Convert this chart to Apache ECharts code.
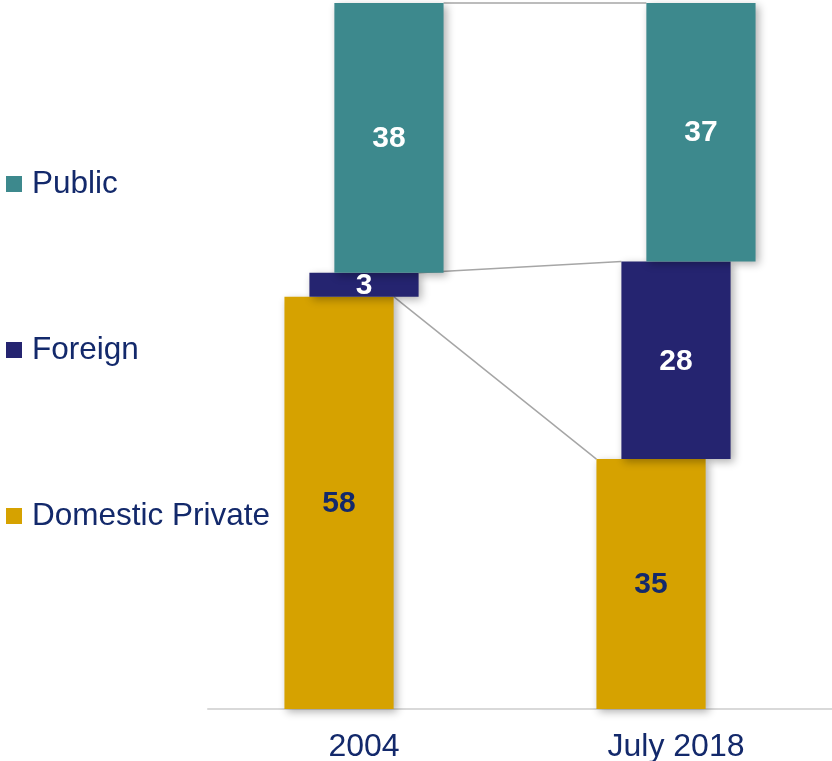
<!DOCTYPE html>
<html>
<head>
<meta charset="utf-8">
<script src="https://cdn.jsdelivr.net/npm/echarts@6/dist/echarts.min.js"></script>
<style>
  html, body { margin: 0; padding: 0; background: #fff; }
  #chart { width: 832px; height: 761px; }
</style>
</head>
<body>
<div id="chart"></div>
<script>
// data (shares in %)
const categories = ['2004', 'July 2018'];
const domesticPrivate = [58.4, 35.4];
const foreign = [3.4, 28.0];
const publicShare = [38.2, 36.6];

const seriesNames = ['Domestic Private', 'Foreign', 'Public'];
const legendOrder = ['Public', 'Foreign', 'Domestic Private'];
const seriesValues = [domesticPrivate, foreign, publicShare];
const seriesColors = ['#d6a200', '#252470', '#3d898d'];
const labelColors = ['#13296b', '#ffffff', '#ffffff'];

const TEXT_COLOR = '#13296b';
const FONT = 'Arial, "Liberation Sans", sans-serif';
const BAR_RATIO = 0.35;   // bar width / category band
const SHIFT_RATIO = 0.08; // horizontal step between stacked pieces

// rows: [category index, base, top, value]
const stackRows = seriesValues.map((vals, k) => vals.map((v, i) => {
  let base = 0;
  for (let j = 0; j < k; j++) base += seriesValues[j][i];
  return [i, base, base + v, v];
}));

// rows for the series lines: [cat0, top0, cat1, top1, series index]
const connectorRows = stackRows.map((rows, k) => [0, rows[0][2], 1, rows[1][2], k]);

function barRenderer(k) {
  return function (params, api) {
    const bandW = api.size([1, 0])[0];
    const w = bandW * BAR_RATIO;
    const off = (k - 1) * bandW * SHIFT_RATIO;
    const top = api.coord([api.value(0), api.value(2)]);
    const bottom = api.coord([api.value(0), api.value(1)]);
    return {
      type: 'group',
      children: [
        {
          type: 'rect',
          shape: { x: top[0] + off - w / 2, y: top[1], width: w, height: bottom[1] - top[1] },
          style: {
            fill: seriesColors[k],
            shadowBlur: 8,
            shadowOffsetX: 3,
            shadowOffsetY: 3,
            shadowColor: 'rgba(0,0,0,0.3)'
          }
        },
        {
          type: 'text',
          x: top[0] + off,
          y: (top[1] + bottom[1]) / 2 + 1,
          z2: 10,
          style: {
            text: String(Math.round(api.value(3))),
            fill: labelColors[k],
            font: 'bold 30px ' + FONT,
            align: 'center',
            verticalAlign: 'middle'
          }
        }
      ]
    };
  };
}

function connectorRenderer(params, api) {
  const bandW = api.size([1, 0])[0];
  const w = bandW * BAR_RATIO;
  const off = (api.value(4) - 1) * bandW * SHIFT_RATIO;
  const p0 = api.coord([api.value(0), api.value(1)]);
  const p1 = api.coord([api.value(2), api.value(3)]);
  return {
    type: 'line',
    shape: { x1: p0[0] + off + w / 2, y1: p0[1], x2: p1[0] + off - w / 2, y2: p1[1] },
    style: { stroke: '#a6a6a6', lineWidth: 1.5 }
  };
}

const chart = echarts.init(document.getElementById('chart'));

const barSeries = seriesNames.map((name, k) => ({
  name: name,
  type: 'custom',
  renderItem: barRenderer(k),
  itemStyle: { color: seriesColors[k] },
  encode: { x: 0, y: [1, 2] },
  data: stackRows[k],
  z: 3,
  silent: true
}));

chart.setOption({
  animation: false,
  legend: {
    orient: 'vertical',
    left: 1,
    top: 163,
    itemGap: 134,
    itemWidth: 16,
    itemHeight: 16,
    icon: 'rect',
    selectedMode: false,
    data: legendOrder,
    textStyle: { fontSize: 31.5, color: TEXT_COLOR, fontFamily: FONT, padding: [0, 0, 0, 5] }
  },
  grid: { left: 208, right: 0, top: 3, bottom: 52, outerBoundsMode: 'none' },
  xAxis: {
    type: 'category',
    data: categories,
    axisTick: { show: false },
    axisLine: { lineStyle: { color: '#d9d9d9', width: 2 } },
    axisLabel: { fontSize: 32, color: TEXT_COLOR, fontFamily: FONT, margin: 22 }
  },
  yAxis: {
    type: 'value',
    min: 0,
    max: 100,
    show: false,
    splitLine: { show: false }
  },
  series: [
    {
      type: 'custom',
      renderItem: connectorRenderer,
      encode: { x: [0, 2], y: [1, 3] },
      data: connectorRows,
      z: 1,
      silent: true
    }
  ].concat(barSeries)
});
</script>
</body>
</html>
